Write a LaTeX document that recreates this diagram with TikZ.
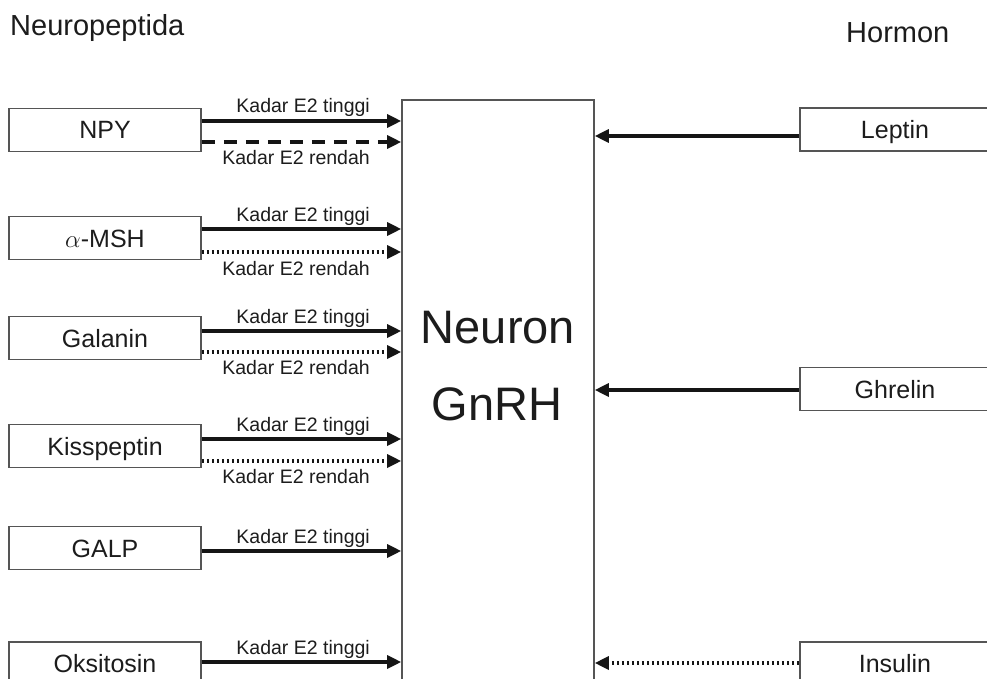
\documentclass[tikz,border=0pt]{standalone}
\usepackage{fontspec}
\setmainfont{Liberation Sans}
\usetikzlibrary{arrows.meta}
\definecolor{txt}{HTML}{1C1C1C}
\definecolor{edge}{HTML}{555555}
\definecolor{arr}{HTML}{151515}
\begin{document}
\begin{tikzpicture}[x=1pt,y=-1pt,
  box/.style={draw=edge, line width=1.6pt, minimum width=192pt, minimum height=43pt, inner sep=0pt, text=txt, font=\fontsize{25}{30}\selectfont, text height=18pt, text depth=0pt},
  rbox/.style={box, minimum width=190pt},
  lab/.style={text=txt, font=\fontsize{19.5}{22}\selectfont, inner sep=0pt, anchor=base east},
  title/.style={text=txt, font=\fontsize{29}{32}\selectfont, inner sep=0pt, anchor=base west},
  big/.style={text=txt, font=\fontsize{47}{52}\selectfont, inner sep=0pt, anchor=base},
  con/.style={draw=arr, line width=3.2pt, -{Triangle[length=14pt,width=13pt]}},
  dashcon/.style={con, dash pattern=on 13pt off 9pt},
  dotcon/.style={con, line width=3.2pt, dash pattern=on 2.6pt off 2.4pt}]
\useasboundingbox (0,0) rectangle (987,679);
\clip (0,0) rectangle (987,679);

% titles
\node[title] (tneuro) at (10,36) {Neuropeptida};
\node[title] (thorm) at (846,43) {Hormon};

% central box
\node[draw=edge, line width=1.6pt, minimum width=192pt, minimum height=640pt, inner sep=0pt, anchor=north] (gnrh) at (498,99) {};
\node[big] (tneuron) at (498,343) {Neuron};
\node[big] (tgnrh) at (497,420) {GnRH};

% left boxes
\node[box] (npy) at (105,130) {NPY};
\node[box] (msh) at (105,238) {$\alpha$-MSH};
\node[box] (gal) at (105,338) {Galanin};
\node[box] (kiss) at (105,446) {Kisspeptin};
\node[box] (galp) at (105,548) {GALP};
\node[box] (oks) at (105,663.5) {Oksitosin};

% right boxes
\node[rbox] (lep) at (895,129.5) {Leptin};
\node[rbox] (ghr) at (895,389) {Ghrelin};
\node[rbox] (ins) at (895,663.5) {Insulin};

% connector start points
\path ([yshift=9pt]npy.east) coordinate (npyA)
      ([yshift=-12pt]npy.east) coordinate (npyB)
      ([yshift=9pt]msh.east) coordinate (mshA)
      ([yshift=-14pt]msh.east) coordinate (mshB)
      ([yshift=7pt]gal.east) coordinate (galA)
      ([yshift=-14pt]gal.east) coordinate (galB)
      ([yshift=7pt]kiss.east) coordinate (kissA)
      ([yshift=-15pt]kiss.east) coordinate (kissB)
      ([yshift=-3pt]galp.east) coordinate (galpA)
      ([yshift=1.5pt]oks.east) coordinate (oksA)
      ([yshift=-6.5pt]lep.west) coordinate (lepA)
      ([yshift=-1pt]ghr.west) coordinate (ghrA)
      ([yshift=0.5pt]ins.west) coordinate (insA);

\draw[con] (npyA) -- (npyA -| gnrh.west);
\draw[dashcon] (npyB) -- (npyB -| gnrh.west);
\draw[con] (mshA) -- (mshA -| gnrh.west);
\draw[dotcon] (mshB) -- (mshB -| gnrh.west);
\draw[con] (galA) -- (galA -| gnrh.west);
\draw[dotcon] (galB) -- (galB -| gnrh.west);
\draw[con] (kissA) -- (kissA -| gnrh.west);
\draw[dotcon] (kissB) -- (kissB -| gnrh.west);
\draw[con] (galpA) -- (galpA -| gnrh.west);
\draw[con] (oksA) -- (oksA -| gnrh.west);

\draw[con] (lepA) -- (lepA -| gnrh.east);
\draw[con] (ghrA) -- (ghrA -| gnrh.east);
\draw[dotcon] (insA) -- (insA -| gnrh.east);

% labels
\node[lab] (l1) at (370,113) {Kadar E2 tinggi};
\node[lab] (l2) at (370,165) {Kadar E2 rendah};
\node[lab] (l3) at (370,221) {Kadar E2 tinggi};
\node[lab] (l4) at (370,275) {Kadar E2 rendah};
\node[lab] (l5) at (370,323) {Kadar E2 tinggi};
\node[lab] (l6) at (370,374) {Kadar E2 rendah};
\node[lab] (l7) at (370,431) {Kadar E2 tinggi};
\node[lab] (l8) at (370,483) {Kadar E2 rendah};
\node[lab] (l9) at (370,543) {Kadar E2 tinggi};
\node[lab] (l10) at (370,654) {Kadar E2 tinggi};
\end{tikzpicture}
\end{document}
